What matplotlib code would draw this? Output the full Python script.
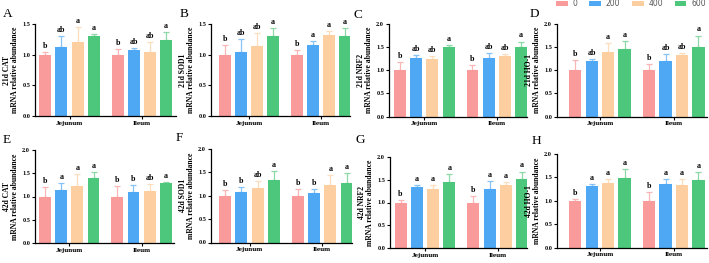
import numpy as np
import matplotlib.pyplot as plt
from matplotlib.patches import Patch

plt.rcParams['font.family'] = ['Liberation Serif', 'DejaVu Serif']

# data
groups = ["Jejunum", "Ileum"]
doses = ["0", "200", "400", "600"]
colors = ["#F99A9B", "#4EA8F3", "#FDCFA0", "#4DC77B"]
err_colors = ["#FBB5B6", "#86C3F6", "#FDDDBC", "#8AD9A6"]

panels = ["A", "B", "C", "D", "E", "F", "G", "H"]
ylabels = ["21d CAT", "21d SOD1", "21d NRF2", "21d HO-1",
           "42d CAT", "42d SOD1", "42d NRF2", "42d HO-1"]
ymax = [1.5, 1.5, 2.0, 2.0, 2.0, 2.0, 2.0, 2.0]

# means: [Jejunum x4, Ileum x4]
cat21 = [1.00, 1.13, 1.21, 1.30, 1.00, 1.08, 1.05, 1.24]
cat21_sd = [0.04, 0.17, 0.24, 0.03, 0.09, 0.03, 0.16, 0.13]
cat21_sig = ["b", "ab", "a", "a", "b", "ab", "ab", "a"]

sod21 = [1.00, 1.05, 1.14, 1.30, 1.00, 1.15, 1.32, 1.31]
sod21_sd = [0.16, 0.20, 0.22, 0.14, 0.07, 0.07, 0.07, 0.12]
sod21_sig = ["b", "ab", "ab", "a", "b", "a", "a", "a"]

nrf21 = [1.00, 1.26, 1.24, 1.50, 1.00, 1.26, 1.31, 1.50]
nrf21_sd = [0.17, 0.07, 0.06, 0.04, 0.11, 0.11, 0.05, 0.12]
nrf21_sig = ["b", "ab", "ab", "a", "b", "ab", "ab", "a"]

ho21 = [1.00, 1.19, 1.39, 1.47, 1.00, 1.21, 1.32, 1.51]
ho21_sd = [0.22, 0.06, 0.19, 0.16, 0.13, 0.14, 0.05, 0.24]
ho21_sig = ["b", "ab", "a", "a", "b", "ab", "ab", "a"]

cat42 = [1.00, 1.14, 1.22, 1.39, 1.00, 1.09, 1.12, 1.29]
cat42_sd = [0.20, 0.15, 0.27, 0.13, 0.22, 0.15, 0.14, 0.02]
cat42_sig = ["b", "a", "a", "a", "b", "b", "ab", "a"]

sod42 = [1.00, 1.09, 1.16, 1.33, 1.00, 1.06, 1.24, 1.28]
sod42_sd = [0.12, 0.10, 0.16, 0.20, 0.135, 0.09, 0.21, 0.20]
sod42_sig = ["b", "b", "ab", "a", "b", "b", "a", "a"]

nrf42 = [1.00, 1.33, 1.30, 1.44, 1.00, 1.29, 1.39, 1.51]
nrf42_sd = [0.06, 0.06, 0.08, 0.18, 0.15, 0.18, 0.05, 0.17]
nrf42_sig = ["b", "a", "a", "a", "b", "a", "a", "a"]

ho42 = [1.00, 1.32, 1.37, 1.49, 1.00, 1.36, 1.34, 1.45]
ho42_sd = [0.03, 0.04, 0.09, 0.18, 0.18, 0.10, 0.12, 0.17]
ho42_sig = ["b", "a", "a", "a", "b", "a", "a", "a"]

means = [cat21, sod21, nrf21, ho21, cat42, sod42, nrf42, ho42]
sds = [cat21_sd, sod21_sd, nrf21_sd, ho21_sd, cat42_sd, sod42_sd, nrf42_sd, ho42_sd]
sigs = [cat21_sig, sod21_sig, nrf21_sig, ho21_sig, cat42_sig, sod42_sig, nrf42_sig, ho42_sig]

# layout (pixels): spine left, right end, y of zero, y of top
W, H = 709, 263
boxes = [(35, 176, 116, 24), (211, 350, 116, 24), (389, 527, 116.5, 24), (557, 707, 116.5, 24),
         (35, 174, 243, 150), (211, 352, 242.5, 149), (390, 527, 248, 157), (557, 707, 247.5, 154)]
xlims = [(-0.477, 1.47), (-0.53, 1.41), (-0.49, 1.42), (-0.58, 1.45),
         (-0.477, 1.45), (-0.53, 1.41), (-0.48, 1.40), (-0.58, 1.45)]
letter_pos = [(3, 14), (180, 14), (353, 15), (530, 14), (3, 140), (176, 138), (355, 140), (532, 141)]

fig = plt.figure(figsize=(W / 100, H / 100), dpi=100)

step = 0.223
width = 0.165
offsets = (np.arange(4) - 1.5) * step

for k in range(8):
    x0, x1, yb, yt = boxes[k]
    ax = fig.add_axes([x0 / W, 1 - yb / H, (x1 - x0) / W, (yb - yt) / H])
    m = np.array(means[k])
    s = np.array(sds[k])
    for g in range(2):
        for d in range(4):
            i = g * 4 + d
            xpos = g + offsets[d]
            ax.bar(xpos, m[i], width=width, color=colors[d], zorder=2)
            ax.errorbar(xpos, m[i], yerr=[[0], [s[i]]], ecolor=err_colors[d],
                        elinewidth=0.9, capsize=2.2, capthick=0.9, fmt='none', zorder=1)
            ax.annotate(sigs[k][i], (xpos, m[i] + s[i]), xytext=(0, 1.5),
                        textcoords='offset points', ha='center', va='bottom',
                        fontsize=5.8, fontweight='bold', annotation_clip=False)
    ax.set_xlim(*xlims[k])
    ax.set_ylim(0, ymax[k])
    ax.set_yticks(np.arange(0, ymax[k] + 0.01, 0.5))
    ax.set_yticklabels([f"{v:.1f}" for v in np.arange(0, ymax[k] + 0.01, 0.5)],
                       fontsize=4.5, fontweight='bold')
    ax.set_xticks([0, 1])
    ax.set_xticklabels(groups, fontsize=5.2, fontweight='bold')
    ax.tick_params(axis='both', length=2, width=0.8, pad=1.5)
    for sp in ['top', 'right']:
        ax.spines[sp].set_visible(False)
    for sp in ['left', 'bottom']:
        ax.spines[sp].set_linewidth(0.9)
    ax.set_ylabel(ylabels[k] + "\nmRNA relative abundance", fontsize=5.5,
                  fontweight='bold', labelpad=2, linespacing=1.1)
    lx, ly = letter_pos[k]
    fig.text(lx / W, 1 - ly / H, panels[k], fontsize=9.5, va='center', ha='left')

handles = [Patch(facecolor=c, edgecolor='none') for c in colors]
leg = fig.legend(handles, doses, loc='upper right', bbox_to_anchor=(1.005, 1.03), ncol=4,
                 frameon=False, handlelength=1.5, handleheight=0.55,
                 columnspacing=1.6, handletextpad=0.6, prop={'family': 'DejaVu Sans', 'size': 5.5})
for t in leg.get_texts():
    t.set_color("#555555")

fig.savefig("out.png", dpi=100)
